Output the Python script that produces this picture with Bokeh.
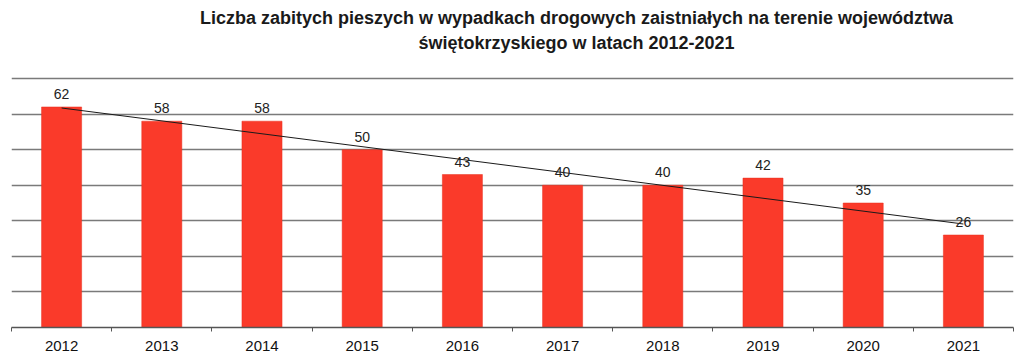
import numpy as np
from bokeh.plotting import figure
from bokeh.models import ColumnDataSource, LabelSet, Label, FixedTicker, Range1d
from bokeh.core.properties import value
from bokeh.embed import file_html
from bokeh.resources import INLINE

years = ["2012", "2013", "2014", "2015", "2016", "2017", "2018", "2019", "2020", "2021"]
values = [62, 58, 58, 50, 43, 40, 40, 42, 35, 26]
title_lines = ["Liczba zabitych pieszych w wypadkach drogowych zaistniałych na terenie województwa",
               "świętokrzyskiego w latach 2012-2021"]

xs = list(range(len(years)))
src = ColumnDataSource(dict(x=xs, y=values, lbl=[str(v) for v in values]))

# frame spans from the top of the canvas so the title can sit inside it;
# the 0..70 value band occupies the lower 249 px of the 327 px frame
y_top = 70 * 327 / 249

p = figure(width=1016, height=356, output_backend="svg", toolbar_location=None,
           x_range=Range1d(-0.5, 9.5), y_range=Range1d(0, y_top),
           min_border_left=11, min_border_right=3, min_border_top=0, min_border_bottom=29)
p.outline_line_color = None
p.background_fill_color = "white"
p.border_fill_color = "white"

p.vbar(x="x", top="y", width=0.4, source=src, fill_color="#FA3A2A", line_color="#E8301F", line_width=0.5)

# linear trendline
coef = np.polyfit(xs, values, 1)
tx = [xs[0], xs[-1]]
p.line(tx, [coef[0] * t + coef[1] for t in tx], line_color="#1a1a1a", line_width=1)

labels = LabelSet(x="x", y="y", text="lbl", source=src, text_align="center", text_baseline="bottom",
                  y_offset=8, text_font=value("Liberation Sans"), text_font_size="14px", text_color="#222222")
p.add_layout(labels)

p.yaxis.visible = False
p.ygrid.ticker = FixedTicker(ticks=list(range(0, 71, 10)))
p.ygrid.grid_line_color = "#7a7a7a"
p.ygrid.grid_line_width = 1.3
p.xgrid.grid_line_color = None

p.xaxis.ticker = FixedTicker(ticks=xs, minor_ticks=[i - 0.5 for i in range(len(years) + 1)])
p.xaxis.major_label_overrides = {i: y for i, y in enumerate(years)}
p.xaxis.major_tick_out = 0
p.xaxis.major_tick_in = 0
p.xaxis.minor_tick_out = 4
p.xaxis.minor_tick_in = 0
p.xaxis.minor_tick_line_color = "#555555"
p.xaxis.axis_line_color = "#555555"
p.xaxis.axis_line_width = 1.3
p.xaxis.major_label_standoff = 9
p.xaxis.major_label_text_font = "Liberation Sans"
p.xaxis.major_label_text_font_size = "15px"
p.xaxis.major_label_text_color = "#111111"

# title lines positioned relative to the plot frame (screen units from frame bottom-left)
for t, yy in zip(title_lines, [310, 285]):
    p.add_layout(Label(x=565, y=yy, x_units="screen", y_units="screen", text=t,
                       text_align="center", text_baseline="middle", text_font="Liberation Sans",
                       text_font_style="bold", text_font_size="18px", text_color="#1a1a1a"))

open("out.html", "w").write(file_html(p, INLINE))
